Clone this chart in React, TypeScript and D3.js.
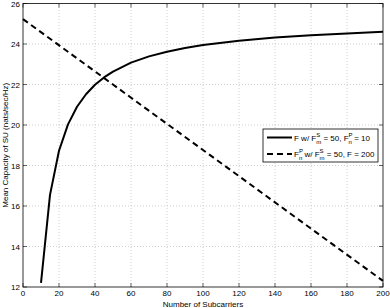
import * as d3 from 'd3';
import React from 'react';

const width = 390;
const height = 308;
const margin = { top: 3.5, right: 7, bottom: 21, left: 23 };

// solid curve: F w/ F^S_m = 50, F^P_n = 10
const solidX = [10, 15, 20, 25, 30, 35, 40, 45, 50, 60, 70, 80, 90, 100, 120, 140, 160, 180, 200];
const solidY = [12.2, 16.55, 18.73, 20.03, 20.9, 21.52, 21.99, 22.35, 22.64, 23.08, 23.39, 23.62, 23.8, 23.95, 24.16, 24.32, 24.43, 24.52, 24.6];

// dashed line: F^P_n w/ F^S_m = 50, F = 200
const dashedX = [0, 200];
const dashedY = [25.23, 12.3];

const xTicks = [0, 20, 40, 60, 80, 100, 120, 140, 160, 180, 200];
const yTicks = [12, 14, 16, 18, 20, 22, 24, 26];

const font = '"Liberation Sans", Arial, sans-serif';
const fs = 8;

export default function App() {
  const x = d3.scaleLinear().domain([0, 200]).range([margin.left, width - margin.right]);
  const y = d3.scaleLinear().domain([12, 26]).range([height - margin.bottom, margin.top]);
  const line = d3.line<[number, number]>().x(d => x(d[0])).y(d => y(d[1]));

  const solid = line(solidX.map((v, i) => [v, solidY[i]]));
  const dashed = line(dashedX.map((v, i) => [v, dashedY[i]]));

  const x0 = x(0), x1 = x(200), y0 = y(12), y1 = y(26);
  const tick = 4;

  // legend box
  const lg = { x: 263, y: 129, w: 115, h: 33 };

  return (
    <svg width={width} height={height} style={{ position: 'absolute', left: 0, top: 0 }}
      fontFamily={font}>
      <rect width={width} height={height} fill="#fff" />
      {/* grid */}
      {xTicks.slice(1, -1).map(t => (
        <line key={'gx' + t} x1={x(t)} x2={x(t)} y1={y0} y2={y1} stroke="#b0b0b0" strokeWidth={0.6} strokeDasharray="1,2" />
      ))}
      {yTicks.slice(1, -1).map(t => (
        <line key={'gy' + t} x1={x0} x2={x1} y1={y(t)} y2={y(t)} stroke="#b0b0b0" strokeWidth={0.6} strokeDasharray="1,2" />
      ))}
      {/* ticks */}
      {xTicks.map(t => (
        <g key={'tx' + t}>
          <line x1={x(t)} x2={x(t)} y1={y0} y2={y0 - tick} stroke="#000" strokeWidth={0.6} />
          <line x1={x(t)} x2={x(t)} y1={y1} y2={y1 + tick} stroke="#000" strokeWidth={0.6} />
          <text x={x(t)} y={y0 + 8.5} fontSize={fs} textAnchor="middle">{t}</text>
        </g>
      ))}
      {yTicks.map(t => (
        <g key={'ty' + t}>
          <line x1={x0} x2={x0 + tick} y1={y(t)} y2={y(t)} stroke="#000" strokeWidth={0.6} />
          <line x1={x1} x2={x1 - tick} y1={y(t)} y2={y(t)} stroke="#000" strokeWidth={0.6} />
          <text x={x0 - 3} y={y(t) + 3} fontSize={fs} textAnchor="end">{t}</text>
        </g>
      ))}
      {/* box */}
      <rect x={x0} y={y1} width={x1 - x0} height={y0 - y1} fill="none" stroke="#000" strokeWidth={0.8} />
      {/* series */}
      <path d={solid ?? ''} fill="none" stroke="#000" strokeWidth={2} strokeLinejoin="round" />
      <path d={dashed ?? ''} fill="none" stroke="#000" strokeWidth={2} strokeDasharray="6,4" />
      {/* axis labels */}
      <text x={(x0 + x1) / 2} y={height - 1.5} fontSize={fs} textAnchor="middle">Number of Subcarriers</text>
      <text transform={`translate(8,${(y0 + y1) / 2}) rotate(-90)`} fontSize={fs} textAnchor="middle">
        Mean Capacity of SU (nats/sec/Hz)
      </text>
      {/* legend */}
      <rect x={lg.x} y={lg.y} width={lg.w} height={lg.h} fill="#fff" stroke="#000" strokeWidth={0.8} />
      <line x1={lg.x + 4} x2={lg.x + 29} y1={lg.y + 8.5} y2={lg.y + 8.5} stroke="#000" strokeWidth={2} />
      <line x1={lg.x + 4} x2={lg.x + 29} y1={lg.y + 25} y2={lg.y + 25} stroke="#000" strokeWidth={2} strokeDasharray="6,4" />
      <text x={lg.x + 31} y={lg.y + 11.5} fontSize={fs}>
        F w/ F<tspan fontSize={6} dy={-4}>S</tspan><tspan fontSize={6} dx={-4} dy={7}>m</tspan>
        <tspan dy={-3}> = 50, F</tspan><tspan fontSize={6} dy={-4}>P</tspan><tspan fontSize={6} dx={-4} dy={7}>n</tspan>
        <tspan dy={-3}> = 10</tspan>
      </text>
      <text x={lg.x + 31} y={lg.y + 28} fontSize={fs}>
        F<tspan fontSize={6} dy={-4}>P</tspan><tspan fontSize={6} dx={-4} dy={7}>n</tspan>
        <tspan dy={-3}> w/ F</tspan><tspan fontSize={6} dy={-4}>S</tspan><tspan fontSize={6} dx={-4} dy={7}>m</tspan>
        <tspan dy={-3}> = 50, F = 200</tspan>
      </text>
    </svg>
  );
}
